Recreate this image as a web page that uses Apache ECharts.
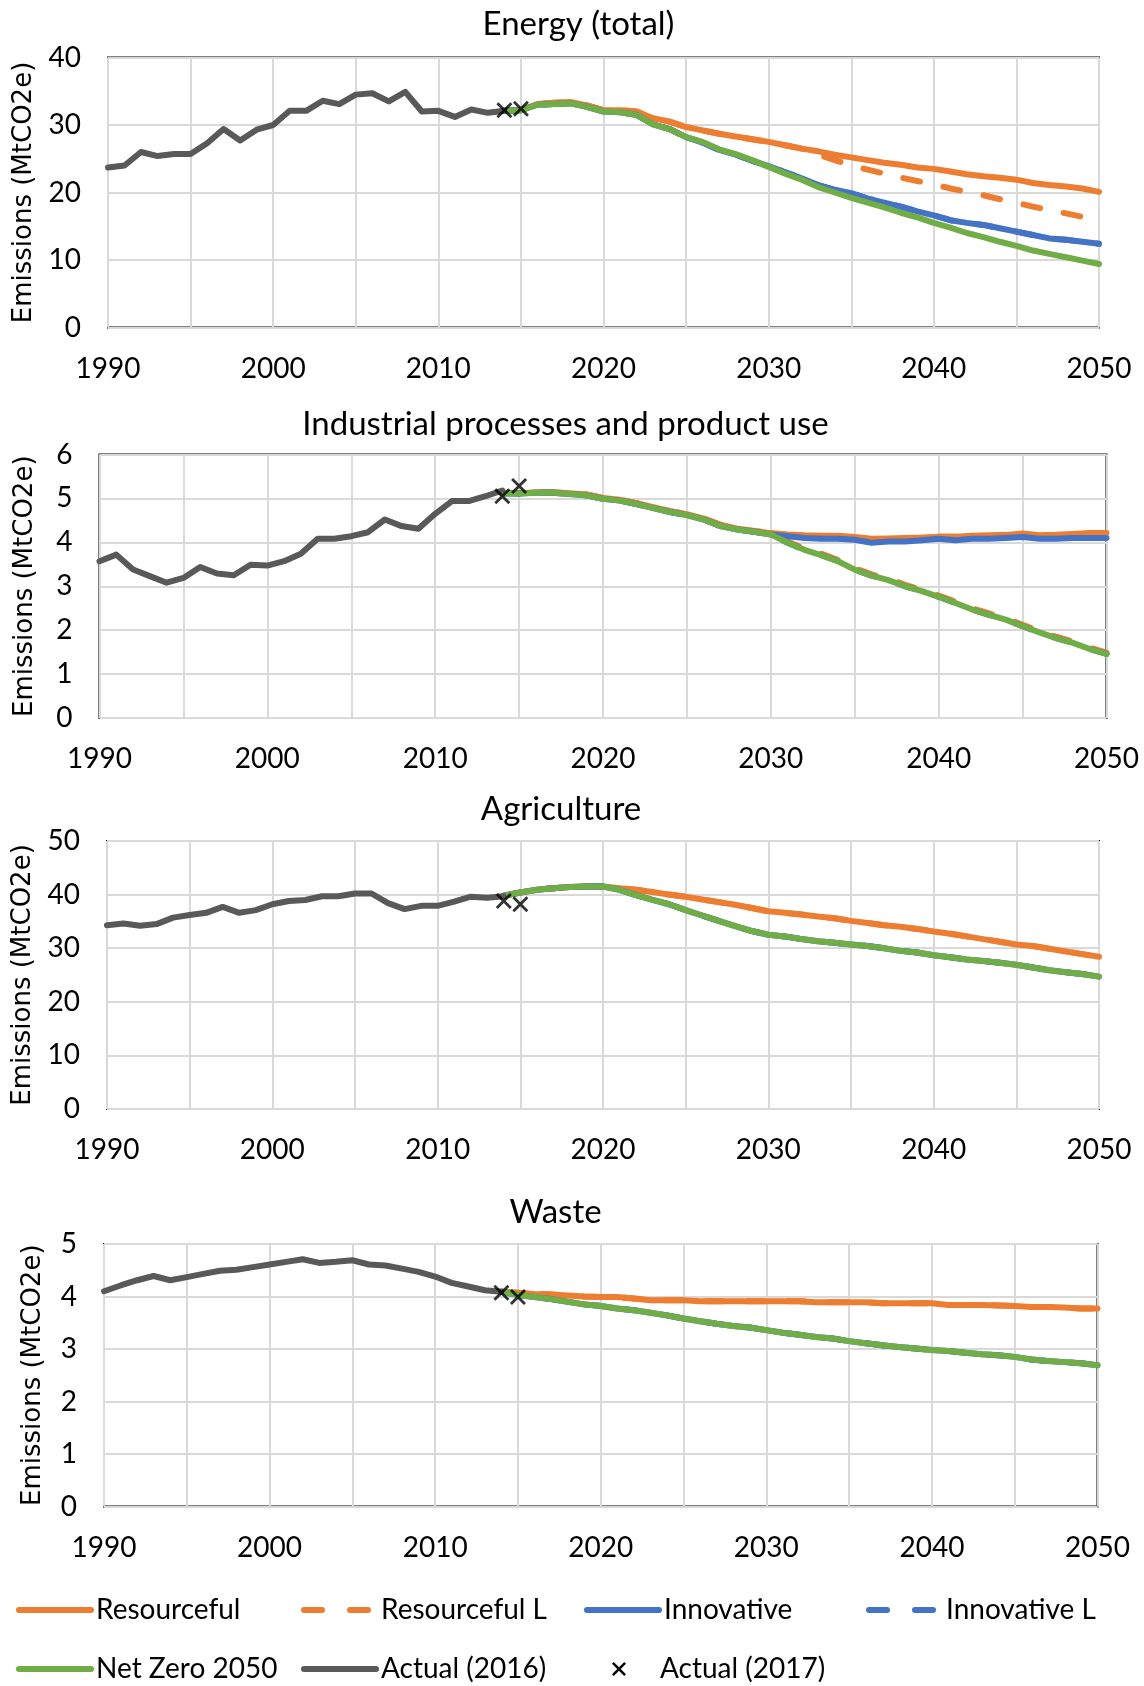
<!DOCTYPE html>
<html>
<head>
<meta charset="utf-8">
<script src="https://cdn.jsdelivr.net/npm/echarts@6/dist/echarts.min.js"></script>
<style>
html,body{margin:0;padding:0;background:#fff;}
#c{width:1144px;height:1686px;}
</style>
</head>
<body>
<div id="c"></div>
<script>
// ---------- DATA ----------
const panelTitles = ['Energy (total)', 'Industrial processes and product use', 'Agriculture', 'Waste'];
const yAxisName = 'Emissions (MtCO2e)';
const xTickLabels = ['1990', '2000', '2010', '2020', '2030', '2040', '2050'];
const yTickMax = [40, 6, 50, 5];
const yTickStep = [10, 1, 10, 1];
const actualStartYear = 1990;      // Actual (2016) series: 1990..2014
const scenarioStartYear = 2014;    // scenario series: 2014..2050
const markerYears = [2014, 2015];  // Actual (2017) crosses

// Energy (total)
const energyActual = [23.7, 24.0, 26.0, 25.4, 25.7, 25.7, 27.3, 29.4, 27.7, 29.3, 30.0, 32.1, 32.1, 33.6, 33.1, 34.5, 34.7, 33.5, 34.9, 32.0, 32.1, 31.2, 32.3, 31.8, 32.1];
const energyMarkers = [32.2, 32.4];
const energyResourceful = [32.1, 32.2, 33.1, 33.3, 33.4, 32.9, 32.2, 32.2, 32.0, 31.0, 30.5, 29.7, 29.2, 28.7, 28.3, 27.9, 27.5, 27.0, 26.5, 26.1, 25.6, 25.2, 24.8, 24.4, 24.1, 23.7, 23.5, 23.1, 22.7, 22.4, 22.2, 21.9, 21.4, 21.1, 20.9, 20.6, 20.1];
const energyResourcefulL = [32.1, 32.2, 33.1, 33.3, 33.4, 32.9, 32.2, 32.2, 32.0, 31.0, 30.5, 29.7, 29.2, 28.7, 28.3, 27.9, 27.5, 27.0, 26.5, 25.6, 24.8, 24.0, 23.4, 22.8, 22.2, 21.7, 21.2, 20.6, 20.1, 19.6, 19.0, 18.5, 17.9, 17.4, 16.9, 16.4, 15.9];
const energyInnovative = [32.1, 32.2, 33.0, 33.1, 33.2, 32.7, 32.0, 31.9, 31.5, 30.1, 29.4, 28.2, 27.4, 26.3, 25.6, 24.7, 23.9, 23.0, 22.1, 21.1, 20.4, 19.9, 19.1, 18.5, 17.9, 17.2, 16.6, 15.9, 15.5, 15.2, 14.7, 14.2, 13.7, 13.2, 13.0, 12.7, 12.4];
const energyInnovativeL = [32.1, 32.2, 33.0, 33.1, 33.2, 32.7, 32.0, 31.9, 31.5, 30.1, 29.4, 28.2, 27.4, 26.3, 25.6, 24.7, 23.9, 23.0, 22.1, 21.1, 20.4, 19.9, 19.1, 18.5, 17.9, 17.2, 16.6, 15.9, 15.5, 15.2, 14.7, 14.2, 13.7, 13.2, 13.0, 12.7, 12.4];
const energyNetZero = [32.1, 32.2, 33.0, 33.1, 33.2, 32.7, 32.0, 31.9, 31.5, 30.1, 29.4, 28.2, 27.5, 26.4, 25.7, 24.8, 23.8, 22.8, 21.9, 20.8, 20.0, 19.2, 18.5, 17.8, 17.0, 16.3, 15.5, 14.8, 14.0, 13.4, 12.7, 12.1, 11.4, 10.9, 10.4, 9.9, 9.4];

// Industrial processes and product use
const industryActual = [3.57, 3.72, 3.38, 3.23, 3.08, 3.19, 3.44, 3.29, 3.25, 3.49, 3.47, 3.57, 3.74, 4.08, 4.08, 4.14, 4.23, 4.52, 4.37, 4.31, 4.65, 4.94, 4.94, 5.05, 5.18];
const industryMarkers = [5.05, 5.28];
const industryResourceful = [5.13, 5.12, 5.14, 5.14, 5.12, 5.09, 5.01, 4.97, 4.89, 4.80, 4.71, 4.64, 4.54, 4.40, 4.31, 4.26, 4.21, 4.18, 4.16, 4.15, 4.15, 4.12, 4.08, 4.09, 4.10, 4.11, 4.13, 4.13, 4.15, 4.16, 4.17, 4.20, 4.16, 4.17, 4.19, 4.21, 4.21];
const industryResourcefulL = [5.13, 5.12, 5.14, 5.14, 5.12, 5.09, 5.01, 4.97, 4.89, 4.80, 4.71, 4.64, 4.54, 4.40, 4.31, 4.26, 4.21, 4.02, 3.86, 3.74, 3.60, 3.41, 3.27, 3.17, 3.03, 2.92, 2.79, 2.65, 2.50, 2.38, 2.27, 2.12, 1.98, 1.85, 1.74, 1.60, 1.49];
const industryInnovative = [5.12, 5.11, 5.13, 5.13, 5.10, 5.07, 4.99, 4.95, 4.87, 4.78, 4.69, 4.62, 4.52, 4.37, 4.29, 4.24, 4.18, 4.14, 4.10, 4.08, 4.08, 4.06, 3.99, 4.02, 4.02, 4.05, 4.08, 4.05, 4.08, 4.08, 4.10, 4.12, 4.08, 4.08, 4.10, 4.10, 4.10];
const industryInnovativeL = [5.12, 5.11, 5.13, 5.13, 5.10, 5.07, 4.99, 4.95, 4.87, 4.78, 4.69, 4.62, 4.52, 4.37, 4.29, 4.24, 4.18, 3.99, 3.83, 3.71, 3.57, 3.38, 3.24, 3.14, 3.00, 2.89, 2.76, 2.62, 2.47, 2.35, 2.24, 2.09, 1.95, 1.82, 1.71, 1.57, 1.46];
const industryNetZero = [5.12, 5.11, 5.13, 5.13, 5.10, 5.07, 4.99, 4.95, 4.87, 4.78, 4.69, 4.62, 4.52, 4.37, 4.29, 4.24, 4.18, 3.99, 3.83, 3.71, 3.57, 3.38, 3.24, 3.14, 3.00, 2.89, 2.76, 2.62, 2.47, 2.35, 2.24, 2.09, 1.95, 1.82, 1.71, 1.57, 1.46];

// Agriculture
const agriActual = [34.3, 34.6, 34.2, 34.5, 35.7, 36.2, 36.6, 37.7, 36.6, 37.1, 38.2, 38.8, 39.0, 39.7, 39.7, 40.2, 40.2, 38.4, 37.3, 37.9, 37.9, 38.7, 39.6, 39.4, 39.7];
const agriMarkers = [38.8, 38.2];
const agriResourceful = [39.8, 40.4, 40.9, 41.2, 41.4, 41.5, 41.5, 41.2, 40.9, 40.5, 40.0, 39.6, 39.1, 38.6, 38.1, 37.5, 36.9, 36.6, 36.3, 35.9, 35.6, 35.1, 34.7, 34.3, 34.0, 33.6, 33.1, 32.7, 32.2, 31.7, 31.2, 30.7, 30.4, 29.9, 29.4, 28.9, 28.4];
const agriResourcefulL = [39.8, 40.4, 40.9, 41.2, 41.4, 41.5, 41.5, 41.2, 40.9, 40.5, 40.0, 39.6, 39.1, 38.6, 38.1, 37.5, 36.9, 36.6, 36.3, 35.9, 35.6, 35.1, 34.7, 34.3, 34.0, 33.6, 33.1, 32.7, 32.2, 31.7, 31.2, 30.7, 30.4, 29.9, 29.4, 28.9, 28.4];
const agriInnovative = [39.8, 40.4, 40.9, 41.2, 41.4, 41.5, 41.5, 40.9, 39.9, 39.0, 38.2, 37.1, 36.1, 35.1, 34.1, 33.2, 32.5, 32.2, 31.7, 31.3, 31.0, 30.7, 30.4, 30.0, 29.5, 29.2, 28.7, 28.3, 27.9, 27.6, 27.3, 26.9, 26.4, 25.9, 25.5, 25.2, 24.7];
const agriInnovativeL = [39.8, 40.4, 40.9, 41.2, 41.4, 41.5, 41.5, 40.9, 39.9, 39.0, 38.2, 37.1, 36.1, 35.1, 34.1, 33.2, 32.5, 32.2, 31.7, 31.3, 31.0, 30.7, 30.4, 30.0, 29.5, 29.2, 28.7, 28.3, 27.9, 27.6, 27.3, 26.9, 26.4, 25.9, 25.5, 25.2, 24.7];
const agriNetZero = [39.8, 40.4, 40.9, 41.2, 41.4, 41.5, 41.5, 40.9, 39.9, 39.0, 38.2, 37.1, 36.1, 35.1, 34.1, 33.2, 32.5, 32.2, 31.7, 31.3, 31.0, 30.7, 30.4, 30.0, 29.5, 29.2, 28.7, 28.3, 27.9, 27.6, 27.3, 26.9, 26.4, 25.9, 25.5, 25.2, 24.7];

// Waste
const wasteActual = [4.10, 4.21, 4.31, 4.39, 4.31, 4.37, 4.43, 4.49, 4.51, 4.56, 4.61, 4.66, 4.71, 4.64, 4.66, 4.69, 4.61, 4.59, 4.53, 4.47, 4.38, 4.26, 4.19, 4.12, 4.09];
const wasteMarkers = [4.07, 3.99];
const wasteResourceful = [4.09, 4.07, 4.05, 4.04, 4.02, 4.00, 3.99, 3.99, 3.96, 3.93, 3.93, 3.93, 3.91, 3.91, 3.91, 3.91, 3.91, 3.91, 3.91, 3.89, 3.89, 3.89, 3.89, 3.87, 3.87, 3.87, 3.87, 3.84, 3.84, 3.84, 3.83, 3.82, 3.80, 3.80, 3.79, 3.77, 3.77];
const wasteResourcefulL = [4.09, 4.07, 4.05, 4.04, 4.02, 4.00, 3.99, 3.99, 3.96, 3.93, 3.93, 3.93, 3.91, 3.91, 3.91, 3.91, 3.91, 3.91, 3.91, 3.89, 3.89, 3.89, 3.89, 3.87, 3.87, 3.87, 3.87, 3.84, 3.84, 3.84, 3.83, 3.82, 3.80, 3.80, 3.79, 3.77, 3.77];
const wasteInnovative = [4.09, 4.03, 3.99, 3.95, 3.90, 3.85, 3.82, 3.77, 3.74, 3.69, 3.64, 3.58, 3.53, 3.48, 3.44, 3.41, 3.36, 3.31, 3.27, 3.23, 3.20, 3.15, 3.11, 3.07, 3.04, 3.01, 2.98, 2.96, 2.93, 2.90, 2.88, 2.85, 2.80, 2.77, 2.75, 2.73, 2.69];
const wasteInnovativeL = [4.09, 4.03, 3.99, 3.95, 3.90, 3.85, 3.82, 3.77, 3.74, 3.69, 3.64, 3.58, 3.53, 3.48, 3.44, 3.41, 3.36, 3.31, 3.27, 3.23, 3.20, 3.15, 3.11, 3.07, 3.04, 3.01, 2.98, 2.96, 2.93, 2.90, 2.88, 2.85, 2.80, 2.77, 2.75, 2.73, 2.69];
const wasteNetZero = [4.09, 4.03, 3.99, 3.95, 3.90, 3.85, 3.82, 3.77, 3.74, 3.69, 3.64, 3.58, 3.53, 3.48, 3.44, 3.41, 3.36, 3.31, 3.27, 3.23, 3.20, 3.15, 3.11, 3.07, 3.04, 3.01, 2.98, 2.96, 2.93, 2.90, 2.88, 2.85, 2.80, 2.77, 2.75, 2.73, 2.69];

// ---------- STYLE / LAYOUT ----------
const COL = { res: '#ED7D31', inn: '#4472C4', nz: '#70AD47', act: '#595959', mk: '#000000' };
const TICK_FONT = 'Lato';
const NAME_FONT = 'DejaVu Sans';
const LINE_W = 6;
const panels = [
  { title: panelTitles[0], tx: 573.5, ty: 24, grid: { left: 108, top: 57.5, width: 991, height: 270 }, nameGap: 70,
    d: { act: energyActual, mk: energyMarkers, res: energyResourceful, resL: energyResourcefulL, inn: energyInnovative, innL: energyInnovativeL, nz: energyNetZero } },
  { title: panelTitles[1], tx: 560.5, ty: 424, grid: { left: 99.5, top: 454.5, width: 1007, height: 263.5 }, nameGap: 61,
    d: { act: industryActual, mk: industryMarkers, res: industryResourceful, resL: industryResourcefulL, inn: industryInnovative, innL: industryInnovativeL, nz: industryNetZero } },
  { title: panelTitles[2], tx: 556, ty: 809, grid: { left: 107, top: 841, width: 992, height: 268 }, nameGap: 69,
    d: { act: agriActual, mk: agriMarkers, res: agriResourceful, resL: agriResourcefulL, inn: agriInnovative, innL: agriInnovativeL, nz: agriNetZero } },
  { title: panelTitles[3], tx: 550.5, ty: 1212, grid: { left: 104, top: 1244, width: 993.5, height: 262.5 }, nameGap: 58,
    d: { act: wasteActual, mk: wasteMarkers, res: wasteResourceful, resL: wasteResourcefulL, inn: wasteInnovative, innL: wasteInnovativeL, nz: wasteNetZero } }
];

const pairs = (start, arr) => arr.map((v, i) => [start + i, v]);
const CROSS = 'path://M1.5,0 L6,4.5 L10.5,0 L12,1.5 L7.5,6 L12,10.5 L10.5,12 L6,7.5 L1.5,12 L0,10.5 L4.5,6 L0,1.5 Z';

const grids = [], xAxes = [], yAxes = [], titles = [], series = [];
panels.forEach((p, i) => {
  grids.push(Object.assign({ show: true, borderColor: '#000', borderWidth: 2, backgroundColor: 'transparent', containLabel: false, outerBoundsMode: 'none' }, p.grid));
  titles.push({ text: p.title, left: p.tx, top: p.ty - 21, textAlign: 'center',
    textStyle: { fontFamily: TICK_FONT, fontSize: 33, fontWeight: 'normal', color: '#000' } });
  xAxes.push({ gridIndex: i, type: 'value', min: 1990, max: 2050, interval: 5,
    axisLine: { show: false }, axisTick: { show: false },
    splitLine: { show: true, lineStyle: { color: '#d9d9d9', width: 2 } },
    axisLabel: { formatter: v => (xTickLabels.indexOf(String(v)) >= 0 ? String(v) : ''), margin: 27,
      fontFamily: TICK_FONT, fontSize: 28, color: '#000', hideOverlap: false, showMinLabel: true, showMaxLabel: true } });
  yAxes.push({ gridIndex: i, type: 'value', min: 0, max: yTickMax[i], interval: yTickStep[i],
    axisLine: { show: false }, axisTick: { show: false },
    splitLine: { show: true, lineStyle: { color: '#d9d9d9', width: 2 } },
    axisLabel: { margin: 27, fontFamily: TICK_FONT, fontSize: 28, color: '#000' },
    name: yAxisName, nameLocation: 'middle', nameRotate: 90, nameGap: p.nameGap,
    nameTextStyle: { fontFamily: NAME_FONT, fontSize: 26, color: '#000' } });
  const line = (name, arr, color, type, start) => ({
    name, type: 'line', xAxisIndex: i, yAxisIndex: i, data: pairs(start, arr),
    symbol: 'none', showSymbol: false, silent: true, animation: false,
    itemStyle: { color },
    lineStyle: { color, width: LINE_W, type, cap: 'round', join: 'round' }
  });
  series.push(line('Resourceful', p.d.res, COL.res, 'solid', scenarioStartYear));
  series.push(line('Resourceful L', p.d.resL, COL.res, [17, 24], scenarioStartYear));
  series.push(line('Innovative', p.d.inn, COL.inn, 'solid', scenarioStartYear));
  series.push(line('Innovative L', p.d.innL, COL.inn, [17, 24], scenarioStartYear));
  series.push(line('Net Zero 2050', p.d.nz, COL.nz, 'solid', scenarioStartYear));
  series.push(line('Actual (2016)', p.d.act, COL.act, 'solid', actualStartYear));
  series.push({ name: 'Actual (2017)', type: 'scatter', xAxisIndex: i, yAxisIndex: i,
    data: markerYears.map((y, k) => [y, p.d.mk[k]]),
    symbol: CROSS, symbolSize: 16, symbolKeepAspect: true, silent: true, animation: false,
    itemStyle: { color: COL.mk }, z: 5 });
});

const legendBase = {
  orient: 'horizontal', itemWidth: 72, itemHeight: 14, padding: 0, itemGap: 0,
  selectedMode: false, symbolKeepAspect: true,
  textStyle: { fontFamily: TICK_FONT, fontSize: 28, color: '#000', lineHeight: 30 },
  lineStyle: { width: LINE_W },
  itemStyle: { opacity: 0 }
};
const legendSpec = [
  ['Resourceful', 16, 1610], ['Resourceful L', 301, 1610], ['Innovative', 584, 1610], ['Innovative L', 866, 1610],
  ['Net Zero 2050', 16, 1669], ['Actual (2016)', 301, 1669], ['Actual (2017)', 612, 1669]
];
const legends = legendSpec.map(([n, x, yc]) => {
  const item = { name: n };
  if (/ L$/.test(n)) item.lineStyle = { type: [18, 28], width: LINE_W, cap: 'round' };
  const l = Object.assign({}, legendBase, { data: [item], left: x, top: yc - 15 });
  if (n === 'Actual (2017)') l.itemStyle = { opacity: 1 };
  return l;
});

const chart = echarts.init(document.getElementById('c'), null, { renderer: 'canvas' });
chart.setOption({
  backgroundColor: '#fff',
  animation: false,
  title: titles,
  grid: grids,
  xAxis: xAxes,
  yAxis: yAxes,
  legend: legends,
  series: series
});
</script>
</body>
</html>
